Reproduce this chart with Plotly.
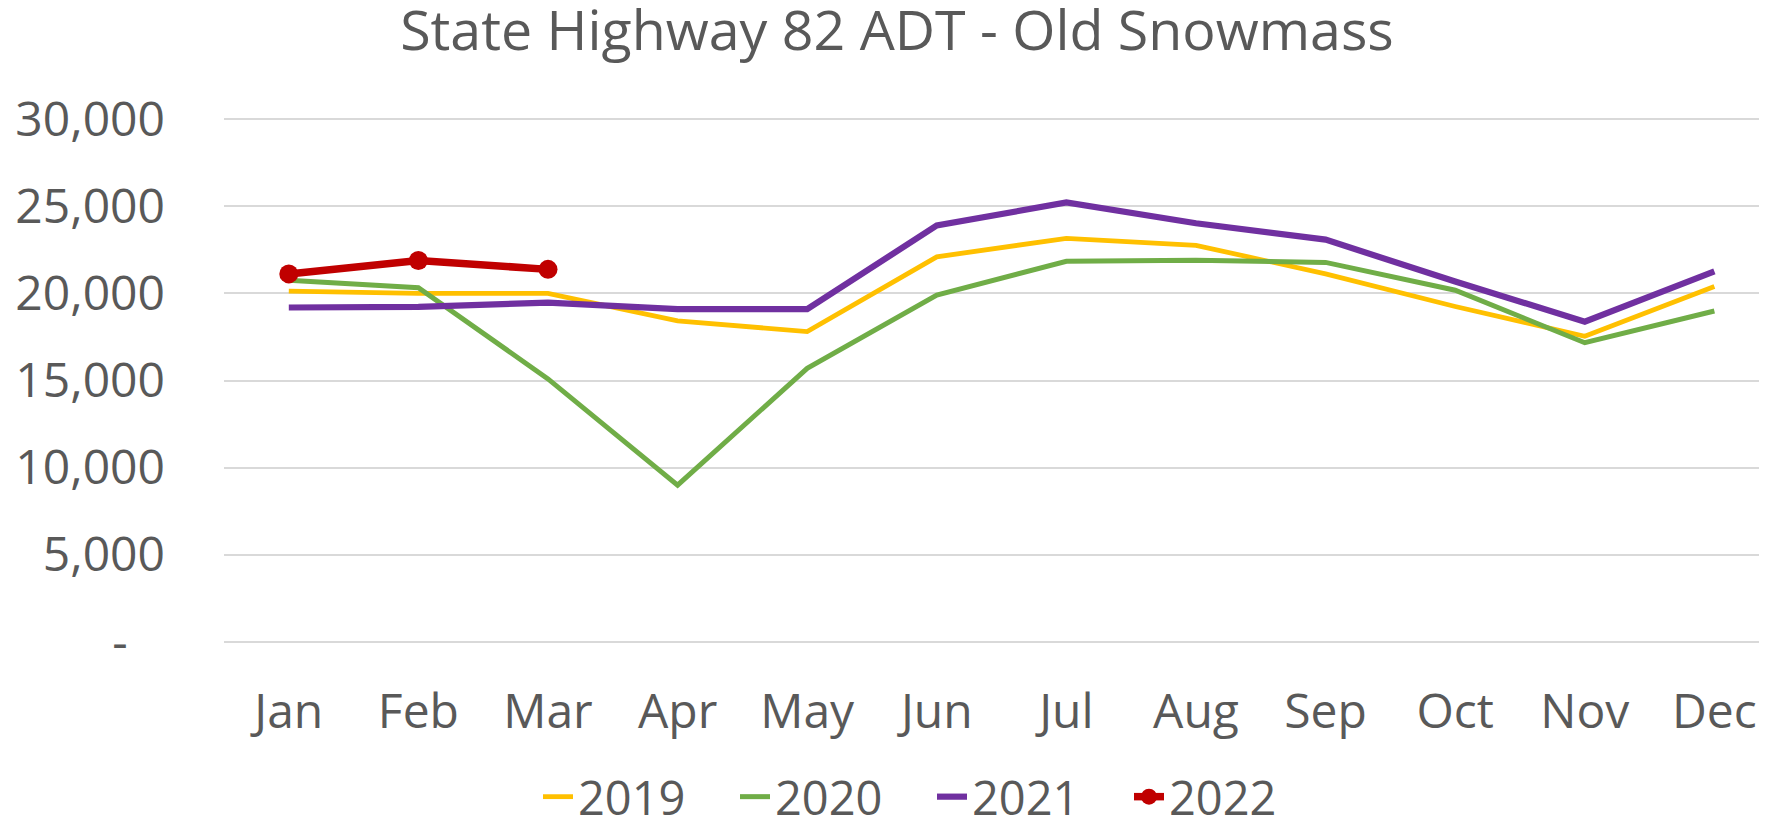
import plotly.graph_objects as go

months = ["Jan", "Feb", "Mar", "Apr", "May", "Jun", "Jul", "Aug", "Sep", "Oct", "Nov", "Dec"]
adt_2019 = [20130, 20000, 20000, 18420, 17810, 22100, 23160, 22760, 21120, 19250, 17540, 20400]
adt_2020 = [20750, 20330, 15090, 8990, 15700, 19910, 21840, 21910, 21780, 20180, 17170, 18990]
adt_2021 = [19190, 19230, 19470, 19100, 19100, 23900, 25220, 24030, 23090, 20680, 18380, 21270]
adt_2022 = [21120, 21890, 21380]
y_ticks = [0, 5000, 10000, 15000, 20000, 25000, 30000]
y_tick_text = ["-\u00a0\u00a0\u00a0", "5,000", "10,000", "15,000", "20,000", "25,000", "30,000"]

fig = go.Figure()
fig.add_trace(go.Scatter(x=months, y=adt_2019, mode="lines", name="2019",
                         line=dict(color="#FFC000", width=4.8)))
fig.add_trace(go.Scatter(x=months, y=adt_2020, mode="lines", name="2020",
                         line=dict(color="#70AD47", width=5)))
fig.add_trace(go.Scatter(x=months, y=adt_2021, mode="lines", name="2021",
                         line=dict(color="#7030A0", width=6.2)))
fig.add_trace(go.Scatter(x=months[:len(adt_2022)], y=adt_2022, mode="lines+markers", name="2022",
                         line=dict(color="#C00000", width=7.5),
                         marker=dict(color="#C00000", size=19)))

fig.update_layout(
    width=1767, height=819,
    margin=dict(l=216, r=8, t=106, b=180, autoexpand=False),
    paper_bgcolor="white", plot_bgcolor="white",
    font=dict(family="Open Sans", color="#595959", size=48),
    title=dict(text="State Highway 82 ADT - Old Snowmass", x=0.5031, xanchor="center",
               y=0.972, yanchor="middle", font=dict(size=55.5, color="#595959")),
    xaxis=dict(type="category", categoryorder="array", categoryarray=months,
               range=[-0.5, 11.406], showgrid=False, zeroline=False, showline=False,
               ticks="", ticklabelstandoff=32, tickfont=dict(size=48)),
    yaxis=dict(range=[-300, 30300], tickvals=y_ticks, ticktext=y_tick_text,
               showgrid=True, gridcolor="#D9D9D9", gridwidth=2, zeroline=False,
               showline=False, ticks="", ticklabelstandoff=58, tickfont=dict(size=48)),
    legend=dict(orientation="h", x=0.2035, xanchor="left",
                yref="container", y=0.0365, yanchor="middle",
                font=dict(size=47), entrywidth=152, entrywidthmode="pixels",
                bgcolor="rgba(0,0,0,0)"),
    showlegend=True,
)

fig.write_html("out.html")
